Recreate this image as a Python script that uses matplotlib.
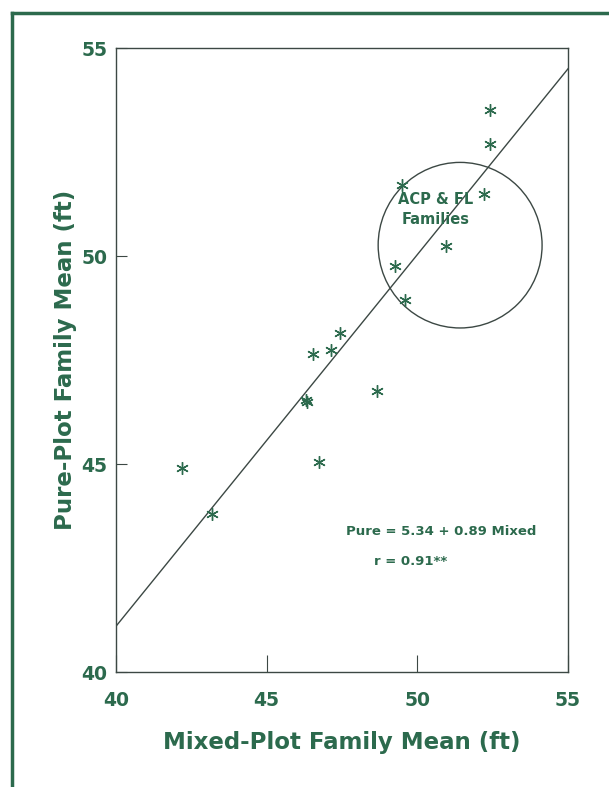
#!/usr/bin/env python
# Pure-plot vs mixed-plot family means, with fitted line and circled ACP & FL families.

import matplotlib
matplotlib.use('Agg')
import matplotlib.pyplot as plt
from matplotlib.patches import Ellipse

font = 'DejaVu Sans'
green = '#2c6a4d'
dark = '#3c4844'

# Family means (ft)
mixed = [42.2, 43.2, 46.3, 46.35, 46.55, 47.15, 47.45, 46.75, 48.65,
         49.25, 49.6, 49.5, 50.95, 52.2, 52.4, 52.4]
pure = [44.9, 43.8, 46.55, 46.5, 47.65, 47.75, 48.15, 45.05, 46.75,
        49.75, 48.95, 51.7, 50.25, 51.5, 52.7, 53.5]

# Fitted line as drawn (ends at x = 40 and x = 55)
fit_x = [40., 55.]
fit_y = [41.1, 54.5]

ticks = [40, 45, 50, 55]

fig = plt.figure(figsize=(6.09, 7.87), dpi=100)
ax = fig.add_axes([116/609., 1-672/787., (568-116)/609., (672-48)/787.])
ax.set_xlim(40, 55)
ax.set_ylim(40, 55)

ax.plot(fit_x, fit_y, color=dark, linewidth=1.0)
ax.plot(mixed, pure, linestyle='none', marker=(6, 2, 0), markersize=9,
        markeredgewidth=1.0, color=green)

circ = Ellipse((51.42, 50.26), width=5.44, height=3.98, fill=False,
               edgecolor=dark, linewidth=1.0)
ax.add_patch(circ)

ax.text(50.6, 51.12, 'ACP & FL\nFamilies', ha='center', va='center',
        fontsize=10.5, fontweight='bold', color=green, fontname=font,
        linespacing=1.4)
ax.text(47.63, 43.38, 'Pure = 5.34 + 0.89 Mixed', ha='left', va='center',
        fontsize=9.5, fontweight='bold', color=green, fontname=font)
ax.text(48.55, 42.66, 'r = 0.91**', ha='left', va='center',
        fontsize=9.5, fontweight='bold', color=green, fontname=font)

ax.set_xticks(ticks)
ax.set_yticks(ticks)
ax.tick_params(axis='x', direction='in', length=12, width=0.8, color=dark, pad=14)
ax.tick_params(axis='y', direction='in', length=8, width=0.8, color=dark, pad=6)
for lab in ax.get_xticklabels() + ax.get_yticklabels():
    lab.set_fontname(font)
    lab.set_fontsize(13.5)
    lab.set_fontweight('bold')
    lab.set_color(green)
for s in ax.spines.values():
    s.set_color(dark)
    s.set_linewidth(1.0)

ax.set_xlabel('Mixed-Plot Family Mean (ft)', fontname=font, fontsize=16.5,
              fontweight='bold', color=green, labelpad=15)
ax.set_ylabel('Pure-Plot Family Mean (ft)', fontname=font, fontsize=16.5,
              fontweight='bold', color=green, labelpad=3)

# Outer frame: only left and top edges show in the scan
fig.add_artist(plt.Line2D([12/609., 12/609.], [0, 1-13/787.], transform=fig.transFigure,
                          color=green, linewidth=2.5))
fig.add_artist(plt.Line2D([12/609., 1], [1-13/787., 1-13/787.], transform=fig.transFigure,
                          color=green, linewidth=2.5))

fig.savefig('out.png', dpi=100)
